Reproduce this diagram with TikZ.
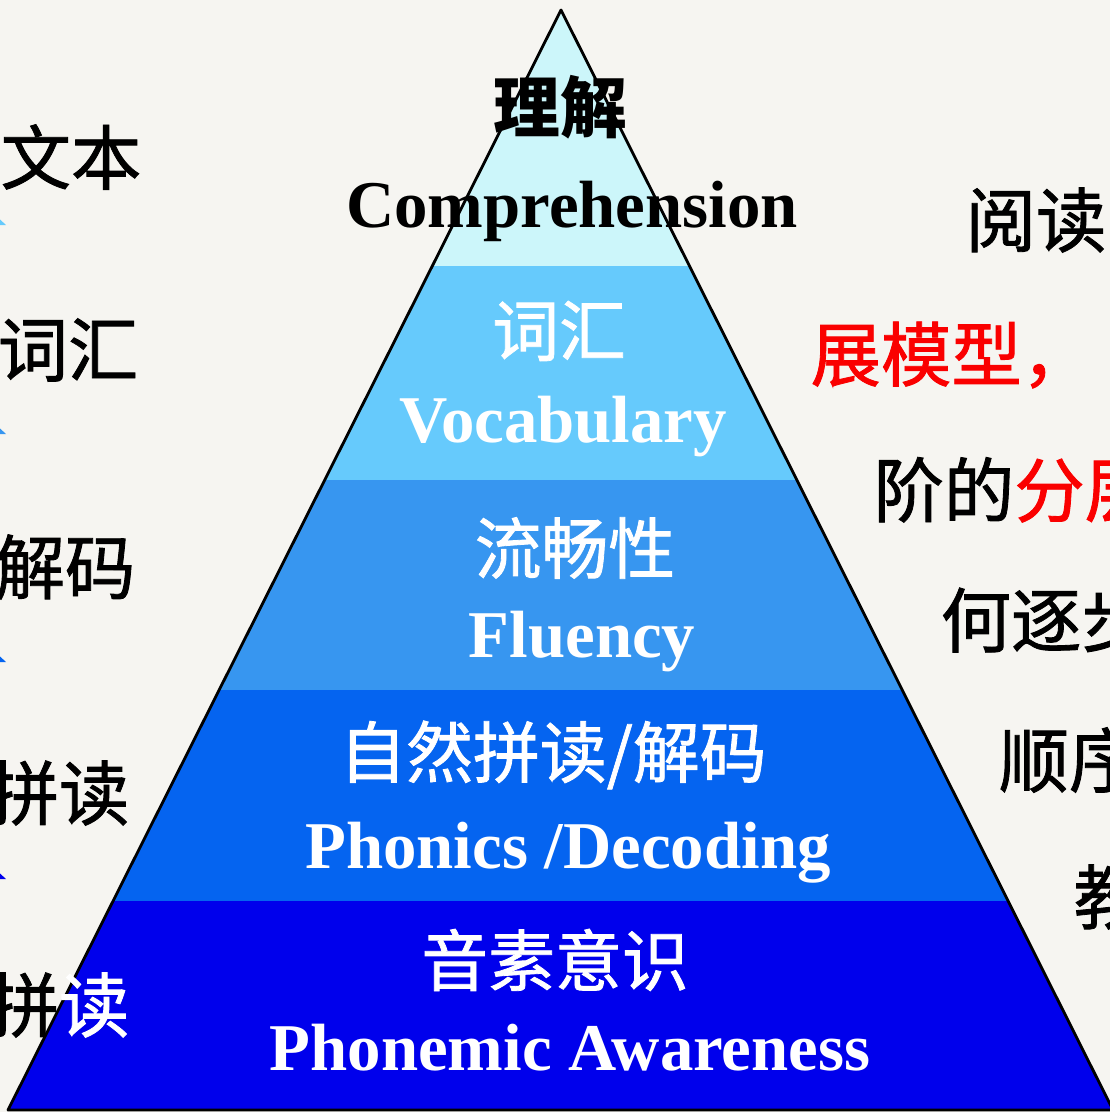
\documentclass[tikz,border=0pt]{standalone}
\usepackage{fontspec}
\setmainfont{Liberation Serif}
\newfontfamily\cjk{Noto Sans CJK SC}
\newfontfamily\cjkmed[FakeBold=1.2]{Noto Sans CJK SC}
\usetikzlibrary{positioning}

\definecolor{bgpaper}{RGB}{246,245,241}
\definecolor{compcol}{RGB}{204,246,250}
\definecolor{vocabcol}{RGB}{102,202,252}
\definecolor{fluencycol}{RGB}{55,150,240}
\definecolor{phonicscol}{RGB}{5,100,240}
\definecolor{phonemecol}{RGB}{0,0,236}
\definecolor{hotred}{RGB}{250,0,0}

\tikzset{
  layerzh/.style={font=\cjkmed\fontsize{19}{22}\selectfont, text=white, inner sep=0pt},
  layeren/.style={font=\bfseries\fontsize{19}{22}\selectfont, text=white, inner sep=0pt, anchor=base},
  sidetext/.style={font=\cjkmed\fontsize{20}{24}\selectfont, inner sep=0pt, anchor=west},
}

\begin{document}
\begin{tikzpicture}[x=0.01cm, y=-0.01cm]
% Nền
\fill[bgpaper] (0,0) rectangle (1110,1112);
\useasboundingbox (0,0) rectangle (1110,1112);

% Kim tự tháp
\coordinate (apex) at (561,10);
\coordinate (baseL) at (8,1110);
\coordinate (baseR) at (1113,1110);
\begin{scope}
  \clip (apex) -- (baseL) -- (baseR) -- cycle;
  \fill[compcol] (0,0) rectangle (1110,266);
  \fill[vocabcol] (0,266) rectangle (1110,480);
  \fill[fluencycol] (0,480) rectangle (1110,690);
  \fill[phonicscol] (0,690) rectangle (1110,901);
  \fill[phonemecol] (0,901) rectangle (1110,1112);
\end{scope}
\draw[line width=0.8pt, line join=round] (apex) -- (baseL) -- (baseR) -- cycle;

% Nhãn các tầng
\node[layerzh, font=\cjk\bfseries\fontsize{19}{22}\selectfont, text=black] (compzh) at (560,107) {理解};
\node[layeren, text=black] (compen) at (572,227) {Comprehension};
\node[layerzh] (vocabzh) at (559,331) {词汇};
\node[layeren] (vocaben) at (563,442) {Vocabulary};
\node[layerzh] (fluencyzh) at (575,548) {流畅性};
\node[layeren] (fluencyen) at (582,657) {Fluency};
\node[layerzh] (phonicszh) at (553,755) {自然拼读/解码};
\node[layeren] (phonicsen) at (568,868) {Phonics /Decoding};
\node[layerzh] (phonemezh) at (555,960) {音素意识};
\node[layeren] (phonemeen) at (570,1070) {Phonemic Awareness};

% Mũi tên bên trái
\foreach \y/\c in {223/vocabcol, 432/fluencycol, 660/phonicscol, 877/phonemecol}
  \fill[\c] (-6,\y-9) -- (6,\y+2) -- (-18,\y+2) -- cycle;

% Chữ bên trái
\node[sidetext] (lefttext) at (0,157) {文本};
\node[sidetext] (leftvocab) at (-3,350) {词汇};
\node[sidetext] (leftdecode) at (-6,567) {解码};
\node[sidetext] (leftblend) at (-12,793) {拼读};
\node[sidetext] (leftphon) at (-12,1005) {拼\textcolor{white}{读}};

% Chữ bên phải
\node[sidetext] (rightread) at (965,220) {阅读};
\node[sidetext, text=hotred] (rightmodel) at (810,355) {展模型，};
\node[sidetext] (rightstage) at (873,490) {阶的\textcolor{hotred}{分层}};
\node[sidetext] (rightstep) at (940,620) {何逐步};
\node[sidetext] (rightorder) at (998,760) {顺序};
\node[sidetext] (rightteach) at (1073,897) {教};
\end{tikzpicture}
\end{document}
